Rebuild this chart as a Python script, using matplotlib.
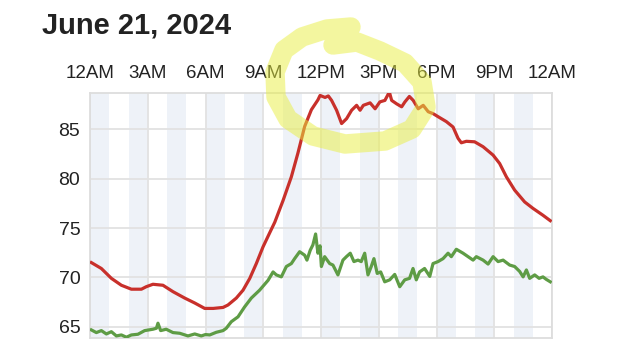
import matplotlib
matplotlib.use("Agg")
import matplotlib.pyplot as plt
from matplotlib.lines import Line2D

plt.rcParams["font.family"] = ["Liberation Sans", "DejaVu Sans"]

title = "June 21, 2024"
tick_hours = [0, 3, 6, 9, 12, 15, 18, 21, 24]
tick_labels = ["12AM", "3AM", "6AM", "9AM", "12PM", "3PM", "6PM", "9PM", "12AM"]
y_ticks = [65, 70, 75, 80, 85]

# red series (hours, value)
red_h = [0.07, 0.59, 1.11, 1.63, 2.15, 2.67, 2.92, 3.27, 3.79, 4.31, 4.92, 5.44,
         5.96, 6.4, 6.91, 7.17, 7.6, 7.95, 8.3, 8.64, 8.99, 9.33, 9.6, 10.03,
         10.46, 10.8, 11.15, 11.5, 11.84, 11.95, 12.21, 12.38, 12.55, 12.81,
         13.07, 13.33, 13.59, 13.85, 14.03, 14.2, 14.55, 14.81, 15.06, 15.32,
         15.55, 15.67, 15.93, 16.19, 16.36, 16.59, 16.79, 17.05, 17.31, 17.57,
         17.83, 18.08, 18.51, 18.86, 19.12, 19.29, 19.55, 19.98, 20.42, 20.94,
         21.28, 21.63, 22.06, 22.58, 23.01, 23.53, 23.91]
red_v = [71.5, 70.9, 69.9, 69.2, 68.8, 68.8, 69.05, 69.3, 69.2, 68.55, 67.9, 67.4,
         66.85, 66.85, 66.95, 67.2, 67.9, 68.7, 69.9, 71.4, 73.1, 74.5, 75.6, 77.8,
         80.2, 82.6, 85.3, 87.0, 88.0, 88.45, 88.25, 88.4, 87.95, 86.95,
         85.6, 86.1, 86.95, 87.45, 86.95, 87.45, 87.7, 87.1, 87.8, 87.95,
         88.8, 87.95, 87.6, 87.3, 87.8, 88.35, 87.95, 87.1, 87.45, 86.8,
         86.6, 86.3, 85.8, 85.25, 84.1, 83.65, 83.8, 83.75, 83.25, 82.4,
         81.55, 80.2, 78.85, 77.65, 77.0, 76.3, 75.75]

# green series (hours, value)
green_h = [0.07, 0.33, 0.59, 0.85, 1.11, 1.37, 1.63, 1.89, 2.15, 2.49, 2.84, 3.27,
           3.45, 3.53, 3.67, 3.96, 4.31, 4.66, 5.09, 5.44, 5.78, 6.0, 6.22, 6.56,
           6.91, 7.08, 7.34, 7.69, 8.03, 8.38, 8.81, 9.25, 9.51, 9.68, 9.94, 10.2,
           10.46, 10.63, 10.89, 11.15, 11.27, 11.44, 11.58, 11.72, 11.84, 11.95,
           12.02, 12.19, 12.45, 12.62, 12.88, 13.14, 13.32, 13.52, 13.71, 13.92,
           14.09, 14.27, 14.44, 14.61, 14.75, 14.92, 15.1, 15.31, 15.57, 15.83,
           16.09, 16.35, 16.6, 16.78, 16.95, 17.12, 17.38, 17.65, 17.82, 18.08,
           18.34, 18.6, 18.77, 19.03, 19.38, 19.64, 19.9, 20.07, 20.42, 20.68,
           20.94, 21.2, 21.46, 21.8, 22.06, 22.32, 22.5, 22.67, 22.84, 23.1,
           23.33, 23.53, 23.7, 23.91]
green_v = [64.67, 64.4, 64.6, 64.26, 64.49, 64.06, 64.16, 63.93, 64.16, 64.23, 64.6, 64.74,
           64.84, 65.35, 64.6, 64.74, 64.4, 64.33, 64.06, 64.26, 64.06, 64.2, 64.16, 64.43,
           64.6, 64.84, 65.5, 66.0, 67.0, 67.9, 68.7, 69.7, 70.55, 70.25, 70.05, 71.1,
           71.4, 71.9, 72.6, 72.25, 71.75, 72.75, 73.3, 74.4, 72.45, 73.2,
           71.1, 72.1, 71.4, 71.25, 70.25, 71.75, 72.1, 72.45, 71.6, 71.75,
           71.6, 72.45, 70.25, 71.1, 71.9, 70.4, 70.55, 69.55, 69.75, 70.3,
           69.05, 69.75, 69.9, 70.9, 69.75, 70.55, 70.9, 70.1, 71.4, 71.6,
           71.9, 72.45, 72.1, 72.85, 72.45, 72.1, 71.75, 72.1, 71.75, 71.35,
           72.1, 71.6, 71.75, 71.25, 71.1, 70.6, 70.05, 70.75, 69.9, 70.25,
           69.9, 70.05, 69.8, 69.55]

# hand-drawn highlighter loop, in image pixels
highlight_px = [(351, 27), (327, 29), (302, 37), (284, 50), (275, 72), (276, 97),
                (288, 119), (313, 136), (345, 144), (385, 141), (412, 129),
                (426, 107), (422, 82), (405, 63), (380, 51), (357, 42), (333, 45)]

W, H = 640, 351
fig = plt.figure(figsize=(W / 100, H / 100), dpi=100)
ax = fig.add_axes([90 / W, 1 - 338 / H, 462 / W, 245 / H])

for k in range(12):
    ax.axvspan(2 * k, 2 * k + 1, color="#eef2f8", lw=0, zorder=0)

ax.plot(red_h, red_v, color="#c8302b", lw=2.3, zorder=3)
ax.plot(green_h, green_v, color="#5e9c45", lw=2.3, zorder=3)

ax.set_xlim(0, 24)
ax.set_ylim(63.85, 88.7)
ax.set_xticks(tick_hours)
ax.set_xticklabels(tick_labels)
ax.set_yticks(y_ticks)
ax.xaxis.tick_top()
ax.tick_params(axis="x", length=0, pad=8, labelsize=13.5, labelcolor="#222222")
ax.tick_params(axis="y", length=0, pad=7, labelsize=14, labelcolor="#222222")
ax.grid(True, color="#e2e2e2", lw=1.3, zorder=1)
ax.set_axisbelow(True)
for s in ax.spines.values():
    s.set_color("#dddddd")
    s.set_linewidth(1.3)

fig.text(42 / W, 1 - 33 / H, title, fontsize=21, fontweight="bold",
         color="#222222", va="baseline", ha="left")

hx = [p[0] / W for p in highlight_px]
hy = [1 - p[1] / H for p in highlight_px]
fig.add_artist(Line2D(hx, hy, transform=fig.transFigure, color="#e9ef40",
                      alpha=0.5, lw=14, solid_joinstyle="round",
                      solid_capstyle="round", zorder=10))

fig.savefig("out.png", dpi=100)
